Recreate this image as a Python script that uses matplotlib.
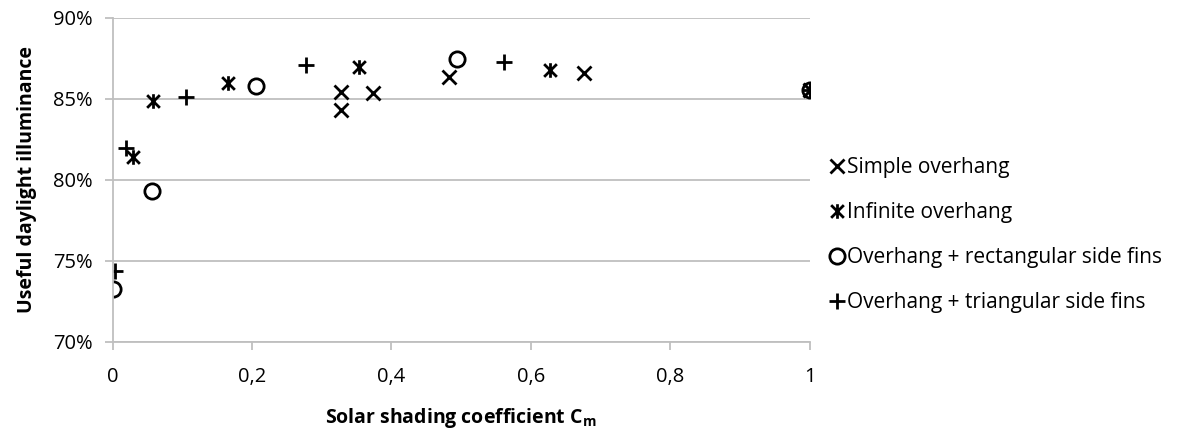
import matplotlib
matplotlib.use("Agg")
import matplotlib.pyplot as plt
from matplotlib.path import Path
from matplotlib.ticker import FuncFormatter, MultipleLocator

plt.rcParams['font.family'] = ['Open Sans', 'DejaVu Sans']

# Solar shading coefficient Cm (x) and useful daylight illuminance in % (y)
simple_x = [0.327, 0.327, 0.374, 0.483, 0.676, 1.0]
simple_y = [85.40, 84.29, 85.34, 86.33, 86.57, 85.57]

infinite_x = [0.029, 0.058, 0.165, 0.354, 0.627, 1.0]
infinite_y = [81.39, 84.85, 85.96, 86.94, 86.76, 85.57]

rect_x = [0.0, 0.057, 0.206, 0.494, 1.0]
rect_y = [73.30, 79.29, 85.77, 87.48, 85.57]

tri_x = [0.003, 0.020, 0.105, 0.278, 0.561, 1.0]
tri_y = [74.40, 82.00, 85.09, 87.07, 87.30, 85.57]

labels = ['Simple overhang', 'Infinite overhang',
          'Overhang + rectangular side fins', 'Overhang + triangular side fins']

# Excel-style star marker: a cross with a vertical bar
star = Path([(-1, -1), (1, 1), (-1, 1), (1, -1), (0, -1.15), (0, 1.15)],
            [Path.MOVETO, Path.LINETO, Path.MOVETO, Path.LINETO, Path.MOVETO, Path.LINETO])

fig = plt.figure(figsize=(11.86, 4.41), dpi=100)
ax = fig.add_axes([0.0949, 0.2245, 0.588, 0.735])

grid_c = '#bfbfbf'
mew = 2.0
ax.plot(simple_x, simple_y, ls='none', marker='x', ms=10.5, mew=mew, color='black', label=labels[0])
ax.plot(infinite_x, infinite_y, ls='none', marker=star, ms=10.5, mew=mew, color='black', label=labels[1])
ax.plot(rect_x, rect_y, ls='none', marker='o', ms=11, mew=mew, mfc='none', mec='black', label=labels[2])
ax.plot(tri_x, tri_y, ls='none', marker='+', ms=12, mew=mew, color='black', label=labels[3])

ax.set_xlim(0, 1)
ax.set_ylim(70, 90)
ax.xaxis.set_major_locator(MultipleLocator(0.2))
ax.yaxis.set_major_locator(MultipleLocator(5))
ax.xaxis.set_major_formatter(FuncFormatter(lambda v, p: ('%g' % round(v, 1)).replace('.', ',')))
ax.yaxis.set_major_formatter(FuncFormatter(lambda v, p: '%d%%' % v))

ax.grid(axis='y', color=grid_c, lw=1.3)
ax.set_axisbelow(True)
for s in ['top', 'right']:
    ax.spines[s].set_visible(False)
for s in ['left', 'bottom']:
    ax.spines[s].set_color(grid_c)
    ax.spines[s].set_linewidth(1.3)
ax.tick_params(axis='both', direction='out', length=6, width=1.3, color=grid_c,
               labelsize=14.5, labelcolor='black')
ax.tick_params(axis='x', pad=12)
ax.tick_params(axis='y', pad=8)

ax.set_ylabel('Useful daylight illuminance', fontsize=14, fontweight='bold', labelpad=12)
ax.set_xlabel('Solar shading coefficient C$_\\mathregular{m}$', fontsize=14,
              fontweight='bold', labelpad=14)

ax.legend(loc='center left', bbox_to_anchor=(1.012, 0.33), frameon=False, fontsize=15,
          handletextpad=0.0, handlelength=1.0, labelspacing=1.15, borderaxespad=0)

fig.savefig('out.png', dpi=100)
